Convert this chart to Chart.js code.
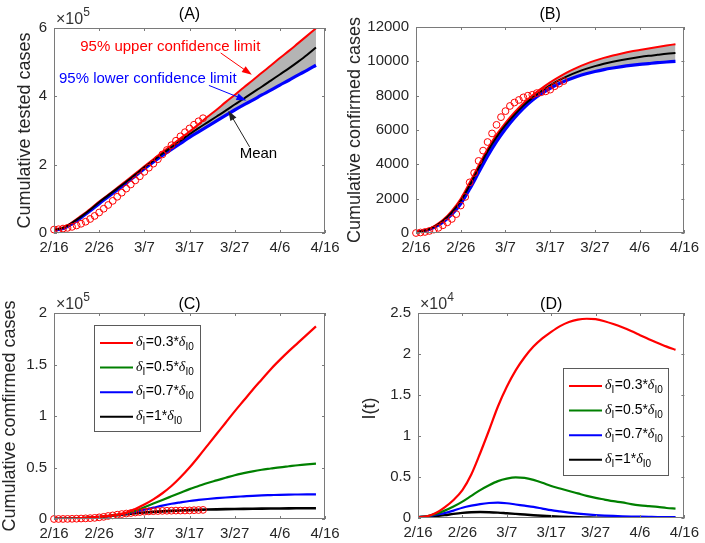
<!DOCTYPE html>
<html>
<head>
<meta charset="utf-8">
<script src="https://cdn.jsdelivr.net/npm/chart.js@4.4.1/dist/chart.umd.min.js"></script>
<style>
  html, body { margin: 0; padding: 0; background: #fff; }
  #wrap { position: relative; width: 705px; height: 543px; overflow: hidden; }
  canvas { position: absolute; }
</style>
</head>
<body>
<div id="wrap">
  <canvas id="chartA" width="352" height="271" style="left:0;top:0"></canvas>
  <canvas id="chartB" width="369" height="271" style="left:336px;top:0"></canvas>
  <canvas id="chartC" width="352" height="272" style="left:0;top:271px"></canvas>
  <canvas id="chartD" width="369" height="272" style="left:336px;top:271px"></canvas>
</div>
<script>
// 日付目盛り (2020/2/16 からの日数 0..60)
const dateTicks = ['2/16', '2/26', '3/7', '3/17', '3/27', '4/6', '4/16'];

// モデル曲線の日数 (2日おき)
const modelDays = [0, 2, 4, 6, 8, 10, 12, 14, 16, 18, 20, 22, 24, 26, 28, 30, 32, 34, 36, 38, 40, 42, 44, 46, 48, 50, 52, 54, 56, 58];
// 観測データの日数
const obsDays = [0, 1, 2, 3, 4, 5, 6, 7, 8, 9, 10, 11, 12, 13, 14, 15, 16, 17, 18, 19, 20, 21, 22, 23, 24, 25, 26, 27, 28, 29, 30, 31, 32, 33];

// (A) 累積検査数
const testedObs = [10000, 11000, 13000, 15000, 18000, 22000, 27000, 33000, 41000, 50000, 60000, 71000, 82000, 94000, 106000, 118000, 130000, 142000, 154000, 166000, 179000, 191000, 203000, 216000, 230000, 243000, 257000, 270000, 283000, 295000, 306000, 317000, 327000, 336000];
const testedMean = [10000, 15000, 30000, 48000, 68000, 90000, 110000, 130000, 150000, 171000, 192000, 212000, 232000, 251000, 270000, 289000, 307000, 324000, 341000, 358000, 376000, 393000, 411000, 428000, 446000, 464000, 482000, 501000, 521000, 543000];
const testedUpper = [10000, 16000, 31000, 50000, 70000, 92000, 112000, 132000, 153000, 174000, 195000, 216000, 237000, 257000, 277000, 297000, 318000, 340000, 361000, 383000, 404000, 426000, 447000, 469000, 490000, 512000, 533000, 555000, 577000, 599000];
const testedLower = [9000, 13000, 27000, 45000, 65000, 86000, 106000, 126000, 146000, 167000, 188000, 208000, 227000, 245000, 262000, 280000, 296000, 312000, 328000, 344000, 360000, 375000, 389000, 404000, 418000, 433000, 447000, 462000, 476000, 491000];

// (B) 累積確定症例数
const confirmedObs = [0, 30, 60, 120, 200, 300, 450, 620, 820, 1100, 1600, 2100, 2950, 3500, 4200, 4800, 5300, 5800, 6300, 6750, 7100, 7400, 7600, 7750, 7900, 8000, 8050, 8150, 8200, 8250, 8350, 8550, 8700, 8850];
const confirmedMean = [50, 150, 360, 700, 1200, 1880, 2780, 3780, 4750, 5580, 6280, 6880, 7420, 7870, 8260, 8600, 8900, 9150, 9370, 9560, 9720, 9860, 9980, 10080, 10170, 10250, 10320, 10380, 10440, 10490];
const confirmedUpper = [50, 160, 390, 750, 1290, 2000, 2940, 3940, 4900, 5730, 6420, 7020, 7560, 8010, 8410, 8770, 9090, 9380, 9630, 9850, 10040, 10200, 10340, 10460, 10570, 10660, 10750, 10830, 10920, 11000];
const confirmedLower = [40, 130, 320, 630, 1080, 1700, 2560, 3520, 4480, 5330, 6060, 6700, 7260, 7730, 8110, 8430, 8700, 8930, 9120, 9280, 9410, 9520, 9610, 9690, 9760, 9820, 9870, 9920, 9960, 10000];

// (C) δI を変えた場合の累積確定症例数
const cumDelta03 = [60, 170, 400, 760, 1300, 2000, 2950, 4100, 6200, 9800, 14000, 19000, 25000, 32000, 40500, 50000, 60500, 71500, 82500, 93500, 104500, 115000, 125500, 135500, 145500, 154500, 163000, 171000, 179000, 187000];
const cumDelta05 = [60, 170, 390, 740, 1250, 1950, 2900, 3950, 5600, 8000, 11500, 15000, 18500, 22000, 25500, 29000, 32000, 35000, 37500, 40000, 42500, 44500, 46300, 47800, 49000, 50200, 51200, 52200, 53000, 53700];
const cumDelta07 = [55, 160, 370, 720, 1220, 1920, 2850, 3850, 5200, 7000, 9000, 11000, 13000, 14800, 16200, 17500, 18500, 19400, 20200, 20900, 21500, 22000, 22500, 22900, 23200, 23500, 23700, 23800, 23900, 24000];
const cumDelta10 = [50, 150, 360, 700, 1200, 1880, 2780, 3780, 4750, 5580, 6280, 6880, 7420, 7870, 8260, 8600, 8900, 9150, 9370, 9560, 9720, 9860, 9980, 10080, 10170, 10250, 10320, 10380, 10440, 10490];

// (D) I(t)
const infDelta03 = [100, 200, 600, 1300, 2200, 3400, 5300, 7900, 10700, 13600, 16000, 18000, 19600, 20900, 21900, 22700, 23400, 23900, 24200, 24300, 24250, 24000, 23650, 23250, 22800, 22300, 21800, 21350, 20900, 20500];
const infDelta05 = [100, 200, 500, 900, 1400, 2000, 2700, 3400, 4000, 4500, 4800, 4950, 4900, 4650, 4300, 3900, 3600, 3300, 3000, 2700, 2450, 2250, 2050, 1900, 1700, 1550, 1450, 1350, 1220, 1140];
const infDelta07 = [100, 200, 400, 600, 900, 1250, 1500, 1700, 1830, 1870, 1800, 1650, 1500, 1350, 1150, 950, 800, 660, 540, 440, 360, 300, 250, 210, 180, 160, 140, 120, 110, 100];
const infDelta10 = [100, 150, 250, 350, 500, 620, 700, 730, 710, 660, 580, 500, 420, 340, 270, 210, 160, 120, 90, 70, 50, 40, 30, 25, 20, 18, 15, 12, 10, 10];

// 凡例の係数
const deltaFactors = ['0.3', '0.5', '0.7', '1'];

const RED = '#ff0000', GREEN = '#008000', BLUE = '#0000ff', BLACK = '#000000';
const SANS = '"Liberation Sans", Arial, sans-serif';
Chart.defaults.font.family = SANS;

function pts(xs, ys) {
  return xs.map((d, i) => ({ x: d, y: ys[i] }));
}

function lineSet(label, days, values, color, width, extra) {
  return Object.assign({
    label: label,
    data: pts(days, values),
    borderColor: color,
    backgroundColor: color,
    borderWidth: width,
    pointRadius: 0,
    cubicInterpolationMode: 'monotone',
    fill: false
  }, extra || {});
}

function circleSet(label, days, values) {
  return {
    label: label,
    data: pts(days, values),
    showLine: false,
    pointStyle: 'circle',
    pointRadius: 3.4,
    pointBorderWidth: 1,
    pointBorderColor: RED,
    pointBackgroundColor: 'rgba(0,0,0,0)',
    clip: false
  };
}

// δI=0.3*δI0 のような添字付きテキスト
function drawDeltaText(ctx, x, y, factor) {
  let cx = x;
  const put = (txt, font, dy) => {
    ctx.font = font;
    ctx.fillText(txt, cx, y + dy);
    cx += ctx.measureText(txt).width;
  };
  put('δ', 'italic 14px "Liberation Serif", serif', 0);
  put('I', '10px ' + SANS, 4);
  cx += 0.5;
  put('=' + factor + '*', '14px ' + SANS, 0);
  put('δ', 'italic 14px "Liberation Serif", serif', 0);
  put('I0', '10px ' + SANS, 4);
}

function drawArrow(ctx, x1, y1, x2, y2, color) {
  const ang = Math.atan2(y2 - y1, x2 - x1);
  const hl = 10, hw = 3.5;
  ctx.strokeStyle = color;
  ctx.fillStyle = color;
  ctx.lineWidth = 1;
  ctx.beginPath();
  ctx.moveTo(x1, y1);
  ctx.lineTo(x2 - hl * 0.8 * Math.cos(ang), y2 - hl * 0.8 * Math.sin(ang));
  ctx.stroke();
  ctx.beginPath();
  ctx.moveTo(x2, y2);
  ctx.lineTo(x2 - hl * Math.cos(ang) + hw * Math.sin(ang), y2 - hl * Math.sin(ang) - hw * Math.cos(ang));
  ctx.lineTo(x2 - hl * Math.cos(ang) - hw * Math.sin(ang), y2 - hl * Math.sin(ang) + hw * Math.cos(ang));
  ctx.closePath();
  ctx.fill();
}

// MATLAB 風の枠・目盛り・タイトル・凡例
const matlabLook = {
  id: 'matlabLook',
  afterDraw(chart, args, o) {
    const ctx = chart.ctx;
    const a = chart.chartArea;
    const xs = chart.scales.x, ys = chart.scales.y;
    ctx.save();

    // 枠
    ctx.strokeStyle = '#7a7a7a';
    ctx.lineWidth = 1;
    ctx.strokeRect(Math.round(a.left) + 0.5, Math.round(a.top) + 0.5,
      Math.round(a.right - a.left) - 1, Math.round(a.bottom - a.top) - 1);

    // 内向きの目盛り
    const tl = 3;
    ctx.beginPath();
    xs.ticks.forEach(t => {
      const px = Math.round(xs.getPixelForValue(t.value)) + 0.5;
      ctx.moveTo(px, a.bottom); ctx.lineTo(px, a.bottom - tl);
      ctx.moveTo(px, a.top); ctx.lineTo(px, a.top + tl);
    });
    ys.ticks.forEach(t => {
      const py = Math.round(ys.getPixelForValue(t.value)) + 0.5;
      ctx.moveTo(a.left, py); ctx.lineTo(a.left + tl, py);
      ctx.moveTo(a.right, py); ctx.lineTo(a.right - tl, py);
    });
    ctx.stroke();

    // パネルタイトル
    ctx.fillStyle = '#000';
    ctx.font = '16px ' + SANS;
    ctx.textAlign = 'center';
    ctx.textBaseline = 'middle';
    ctx.fillText(o.title, (a.left + a.right) / 2, a.top - o.titleGap);

    // 指数ラベル ×10^n
    if (o.exponent) {
      ctx.fillStyle = '#333';
      ctx.textAlign = 'left';
      ctx.textBaseline = 'alphabetic';
      ctx.font = '16px ' + SANS;
      const ex = a.left + 2, ey = a.top - 4;
      ctx.fillText('×10', ex, ey);
      const w = ctx.measureText('×10').width;
      ctx.font = '12px ' + SANS;
      ctx.fillText(o.exponent, ex + w, ey - 8);
    }

    // 縦軸タイトル
    ctx.save();
    ctx.fillStyle = '#262626';
    ctx.font = '18px ' + SANS;
    ctx.textAlign = 'center';
    ctx.textBaseline = 'middle';
    ctx.translate(a.left - o.yTitleGap, (a.top + a.bottom) / 2 + (o.yTitleShift || 0));
    ctx.rotate(-Math.PI / 2);
    ctx.fillText(o.yTitle, 0, 0);
    ctx.restore();

    // 注記 (A)
    (o.notes || []).forEach(n => {
      ctx.fillStyle = n.color;
      ctx.font = '15px ' + SANS;
      ctx.textAlign = 'left';
      ctx.textBaseline = 'middle';
      ctx.fillText(n.text, xs.getPixelForValue(n.tx), ys.getPixelForValue(n.ty));
      drawArrow(ctx, xs.getPixelForValue(n.ax), ys.getPixelForValue(n.ay),
        xs.getPixelForValue(n.hx), ys.getPixelForValue(n.hy), n.arrowColor);
    });

    // 凡例 (δI の曲線のみ)
    if (o.legend) {
      const L = o.legend;
      const bx = a.left + L.left, by = a.top + L.top;
      ctx.fillStyle = '#fff';
      ctx.fillRect(bx, by, L.width, L.height);
      ctx.strokeStyle = '#5a5a5a';
      ctx.lineWidth = 1;
      ctx.strokeRect(Math.round(bx) + 0.5, Math.round(by) + 0.5, L.width, L.height);
      chart.data.datasets.filter(ds => ds.inLegend).forEach((ds, i) => {
        const cy = by + 18 + i * 24.6;
        ctx.strokeStyle = ds.borderColor;
        ctx.lineWidth = 2;
        ctx.beginPath();
        ctx.moveTo(bx + 6, cy);
        ctx.lineTo(bx + 39, cy);
        ctx.stroke();
        ctx.fillStyle = '#000';
        ctx.textAlign = 'left';
        ctx.textBaseline = 'alphabetic';
        drawDeltaText(ctx, bx + 42, cy + 3, deltaFactors[i]);
      });
    }
    ctx.restore();
  }
};

function buildPanel(id, datasets, yCfg, deco) {
  return new Chart(document.getElementById(id), {
    type: 'line',
    data: { datasets: datasets },
    options: {
      responsive: false,
      animation: false,
      layout: { padding: { top: deco.padTop, right: deco.padRight, left: 0, bottom: 0 } },
      plugins: {
        legend: { display: false },
        tooltip: { enabled: false },
        filler: { drawTime: 'beforeDatasetsDraw' },
        matlabLook: deco
      },
      scales: {
        x: {
          type: 'linear',
          min: 0,
          max: 60,
          grid: { display: false, drawTicks: false },
          border: { display: false },
          ticks: {
            stepSize: 10,
            autoSkip: false,
            maxRotation: 0,
            padding: 6,
            color: '#262626',
            font: { size: 15 },
            callback: v => dateTicks[Math.round(v / 10)]
          },
          afterFit: s => { s.height = deco.xHeight; }
        },
        y: {
          type: 'linear',
          min: yCfg.min,
          max: yCfg.max,
          grid: { display: false, drawTicks: false },
          border: { display: false },
          ticks: {
            stepSize: yCfg.step,
            padding: 7,
            color: '#262626',
            font: { size: 15 },
            callback: yCfg.fmt
          },
          afterFit: s => { s.width = deco.yWidth; }
        }
      }
    },
    plugins: [matlabLook]
  });
}

// (A)
buildPanel('chartA', [
  circleSet('Observed', obsDays, testedObs),
  lineSet('Mean', modelDays, testedMean, BLACK, 2),
  lineSet('95% upper confidence limit', modelDays, testedUpper, RED, 2, { fill: { target: 3 }, backgroundColor: '#b4b4b4' }),
  lineSet('95% lower confidence limit', modelDays, testedLower, BLUE, 3.2)
], { min: 0, max: 600000, step: 200000, fmt: v => String(v / 1e5) }, {
  padTop: 28, padRight: 27, yWidth: 54, xHeight: 38,
  title: '(A)', titleGap: 13, exponent: '5',
  yTitle: 'Cumulative tested cases', yTitleGap: 29,
  notes: [
    { text: '95% upper confidence limit', color: RED, tx: 5.8, ty: 544000, ax: 36.9, ay: 527000, hx: 43.8, hy: 463000, arrowColor: RED },
    { text: '95% lower confidence limit', color: BLUE, tx: 1.1, ty: 451000, ax: 34.3, ay: 432000, hx: 42.6, hy: 388000, arrowColor: BLUE },
    { text: 'Mean', color: BLACK, tx: 41.1, ty: 231000, ax: 43.3, ay: 252000, hx: 38.6, hy: 358000, arrowColor: '#222' }
  ]
});

// (B)
buildPanel('chartB', [
  circleSet('Observed', obsDays, confirmedObs),
  lineSet('Mean', modelDays, confirmedMean, BLACK, 2),
  lineSet('Upper', modelDays, confirmedUpper, RED, 2, { fill: { target: 3 }, backgroundColor: '#b4b4b4' }),
  lineSet('Lower', modelDays, confirmedLower, BLUE, 3.2)
], { min: 0, max: 12000, step: 2000, fmt: v => String(v) }, {
  padTop: 27, padRight: 17, yWidth: 80, xHeight: 38,
  title: '(B)', titleGap: 12,
  yTitle: 'Cumulative confirmed cases', yTitleGap: 61
});

// (C)
buildPanel('chartC', [
  circleSet('Observed', obsDays, confirmedObs),
  lineSet('δI=0.3*δI0', modelDays, cumDelta03, RED, 2.2, { inLegend: true }),
  lineSet('δI=0.5*δI0', modelDays, cumDelta05, GREEN, 2.2, { inLegend: true }),
  lineSet('δI=0.7*δI0', modelDays, cumDelta07, BLUE, 2.2, { inLegend: true }),
  lineSet('δI=1*δI0', modelDays, cumDelta10, BLACK, 2.6, { inLegend: true })
], { min: 0, max: 200000, step: 50000, fmt: v => String(v / 1e5) }, {
  padTop: 42, padRight: 27, yWidth: 54, xHeight: 24,
  title: '(C)', titleGap: 8, exponent: '5',
  yTitle: 'Cumulative comfirmed cases', yTitleGap: 44,
  legend: { left: 40, top: 12, width: 106, height: 106 }
});

// (D)
buildPanel('chartD', [
  lineSet('δI=0.3*δI0', modelDays, infDelta03, RED, 2.2, { inLegend: true }),
  lineSet('δI=0.5*δI0', modelDays, infDelta05, GREEN, 2.2, { inLegend: true }),
  lineSet('δI=0.7*δI0', modelDays, infDelta07, BLUE, 2.2, { inLegend: true }),
  lineSet('δI=1*δI0', modelDays, infDelta10, BLACK, 2.4, { inLegend: true })
], { min: 0, max: 25000, step: 5000, fmt: v => String(v / 1e4) }, {
  padTop: 42, padRight: 17, yWidth: 82, xHeight: 25,
  title: '(D)', titleGap: 8, exponent: '4',
  yTitle: 'I(t)', yTitleGap: 48, yTitleShift: -7,
  legend: { left: 145, top: 55, width: 105, height: 107 }
});
</script>
</body>
</html>
